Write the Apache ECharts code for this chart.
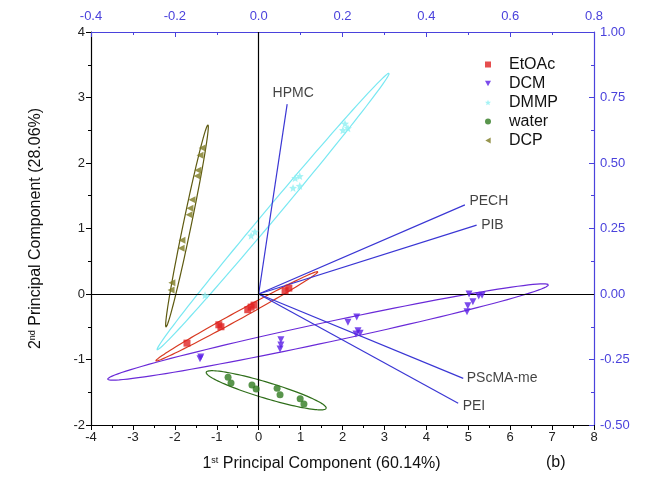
<!DOCTYPE html>
<html>
<head>
<meta charset="utf-8">
<script src="https://cdn.jsdelivr.net/npm/echarts@6/dist/echarts.min.js"></script>
<style>html,body{margin:0;padding:0;background:#fff}#c{width:650px;height:491px}</style>
</head>
<body>
<div id="c"></div>
<script>
// ---- Scores (1st PC, 2nd PC) ----
const groupNames = ['EtOAc', 'DCM', 'DMMP', 'water', 'DCP'];
const etoac = [[-1.71,-0.75],[-0.95,-0.47],[-0.90,-0.50],[-0.26,-0.24],[-0.18,-0.20],[-0.11,-0.17],[0.63,0.05],[0.72,0.09]];
const dcm = [[-1.40,-0.99],[-1.38,-0.96],[0.53,-0.70],[0.53,-0.78],[0.51,-0.84],[2.13,-0.43],[2.34,-0.35],[2.37,-0.56],[2.42,-0.60],[2.32,-0.61],[5.02,0.0],[5.11,-0.12],[5.25,-0.03],[5.33,-0.02],[4.99,-0.18],[4.97,-0.27]];
const dmmp = [[-1.28,-0.02],[-0.18,0.89],[-0.09,0.95],[0.87,1.77],[0.98,1.80],[0.82,1.62],[0.98,1.65],[2.06,2.60],[2.01,2.50],[2.13,2.53]];
const water = [[-0.73,-1.27],[-0.66,-1.36],[-0.16,-1.39],[-0.06,-1.45],[0.44,-1.44],[0.51,-1.54],[0.99,-1.60],[1.08,-1.68]];
const dcp = [[-1.35,2.23],[-1.40,2.12],[-1.45,1.89],[-1.47,1.80],[-1.59,1.44],[-1.64,1.31],[-1.66,1.21],[-1.83,0.82],[-1.85,0.70],[-2.07,0.17],[-2.09,0.06]];

// ---- Confidence ellipses: centre, major half-axis vector, minor half-axis vector (data units) ----
const ellipseCenter = [[-0.52,-0.34],[1.655,-0.58],[0.345,1.26],[0.18,-1.47],[-1.71,1.04]];
const ellipseMajor  = [[1.93,0.68],[5.255,0.72],[2.765,2.11],[1.43,-0.275],[0.50,1.54]];
const ellipseMinor  = [[0.046,-0.053],[0.05,-0.149],[0.11,-0.059],[-0.055,-0.117],[0.094,-0.012]];

// ---- Loadings (top / right axes) ----
const loadingNames = ['HPMC', 'PECH', 'PIB', 'PScMA-me', 'PEI'];
const loadingX = [0.068, 0.492, 0.520, 0.488, 0.476];
const loadingY = [0.725, 0.340, 0.263, -0.322, -0.417];

// ---- Tick settings ----
const bottomTicks = {min: -4, max: 8, interval: 1};
const leftTicks = {min: -2, max: 4, interval: 1};
const topTicks = {min: -0.4, max: 0.8, interval: 0.2};
const rightTicks = {min: -0.5, max: 1.0, interval: 0.25};

const FONT = 'Liberation Sans, Arial, sans-serif';
const BLUE = '#4a42dc';
const groupColors = ['#e02222', '#5a1ee6', '#8ef0f2', '#2f7a1f', '#7d7a22'];
const ellipseColors = ['#d83a22', '#6a2ad8', '#78e8f2', '#2f6e1a', '#5e5a10'];
const STAR = 'path://M0,-10L2.6,-3.6L9.5,-3.1L4.2,1.4L5.9,8.1L0,4.5L-5.9,8.1L-4.2,1.4L-9.5,-3.1L-2.6,-3.6Z';
const DOWN_TRI = 'path://M-5,-4L5,-4L0,5Z';
const LEFT_TRI = 'path://M-5,0L4,-5L4,5Z';
const groupSymbols = ['rect', DOWN_TRI, STAR, 'circle', LEFT_TRI];
const groupData = [etoac, dcm, dmmp, water, dcp];

const series = [];

// ellipses
series.push({
  type: 'custom', name: 'ellipses', xAxisIndex: 0, yAxisIndex: 0, silent: true, z: 2,
  data: ellipseCenter.map((c, i) => [c[0], c[1], i]),
  renderItem: function (params, api) {
    const i = api.value(2);
    const c = ellipseCenter[i], a = ellipseMajor[i], b = ellipseMinor[i];
    const pts = [];
    const N = 120;
    for (let k = 0; k <= N; k++) {
      const t = 2 * Math.PI * k / N;
      pts.push(api.coord([c[0] + a[0] * Math.cos(t) + b[0] * Math.sin(t), c[1] + a[1] * Math.cos(t) + b[1] * Math.sin(t)]));
    }
    return {type: 'polyline', shape: {points: pts}, style: {stroke: ellipseColors[i], lineWidth: 1.2, fill: null}};
  }
});

// loadings lines
loadingNames.forEach((n, i) => {
  series.push({
    type: 'line', name: 'load_' + n, xAxisIndex: 1, yAxisIndex: 1, silent: true, z: 3,
    showSymbol: false, symbol: 'none',
    lineStyle: {color: '#3a36d4', width: 1.2},
    data: [[0, 0], [loadingX[i], loadingY[i]]]
  });
});

// loading labels
const labelPos = [
  {position: 'top', distance: 3, offset: [6, 0]},
  {position: 'right', distance: 4, offset: [0, -4]},
  {position: 'right', distance: 4, offset: [0, 0]},
  {position: 'right', distance: 3, offset: [0, 0]},
  {position: 'right', distance: 4, offset: [0, 3]}
];
series.push({
  type: 'scatter', name: 'loadLabels', xAxisIndex: 1, yAxisIndex: 1, silent: true, symbolSize: 1,
  itemStyle: {color: 'rgba(0,0,0,0)'}, z: 4,
  data: loadingNames.map((n, i) => ({
    value: [loadingX[i], loadingY[i]],
    label: Object.assign({show: true, formatter: n, color: '#111', fontSize: 14, fontFamily: FONT}, labelPos[i])
  }))
});

// scores
groupNames.forEach((n, i) => {
  const s = {
    type: 'scatter', name: n, xAxisIndex: 0, yAxisIndex: 0, z: 5,
    symbol: groupSymbols[i], symbolSize: i === 2 ? 8 : 7,
    itemStyle: {color: groupColors[i]},
    data: groupData[i]
  };
  if (i === 0) {
    s.markLine = {
      silent: true, symbol: 'none', animation: false,
      lineStyle: {color: '#000', type: 'solid', width: 1.2},
      label: {show: false},
      data: [{xAxis: 0}, {yAxis: 0}]
    };
  }
  series.push(s);
});

const rich = {
  n: {fontSize: 16, color: '#111', fontFamily: FONT},
  s: {fontSize: 9, verticalAlign: 'top', color: '#111', padding: [0, 0, 7, 0], fontFamily: FONT}
};

const option = {
  animation: false,
  backgroundColor: '#fff',
  textStyle: {fontFamily: FONT},
  grid: {left: 91, right: 56, top: 32, bottom: 66, containLabel: false},
  legend: {
    data: groupNames.map((n, i) => ({name: n, icon: groupSymbols[i], itemStyle: {color: groupColors[i]}})),
    orient: 'vertical', left: 480, top: 50,
    itemWidth: 6, itemHeight: 6, itemGap: 0,
    textStyle: {fontSize: 16, lineHeight: 19, color: '#111', fontFamily: FONT, padding: [0, 0, 0, 13]}
  },
  xAxis: [
    {
      type: 'value', position: 'bottom', min: bottomTicks.min, max: bottomTicks.max, interval: bottomTicks.interval,
      axisLine: {show: true, onZero: false, lineStyle: {color: '#000', width: 1.2}},
      axisTick: {show: true, inside: false, length: 5, lineStyle: {color: '#000'}},
      minorTick: {show: true, splitNumber: 2, length: 3, lineStyle: {color: '#000'}},
      splitLine: {show: false},
      axisLabel: {color: '#222', fontSize: 13, margin: 6, fontFamily: FONT},
      name: '{n|1}{s|st}{n| Principal Component (60.14%)}',
      nameLocation: 'middle', nameGap: 31,
      nameTextStyle: {padding: [0, 42, 0, 0], rich: rich}
    },
    {
      type: 'value', position: 'top', min: topTicks.min, max: topTicks.max, interval: topTicks.interval,
      axisLine: {show: true, onZero: false, lineStyle: {color: BLUE, width: 1.2}},
      axisTick: {show: true, inside: true, length: 5, lineStyle: {color: BLUE}},
      minorTick: {show: true, splitNumber: 2, length: 3, lineStyle: {color: BLUE}},
      splitLine: {show: false},
      axisLabel: {color: BLUE, fontSize: 13, margin: 9, fontFamily: FONT, formatter: v => v.toFixed(1)}
    }
  ],
  yAxis: [
    {
      type: 'value', position: 'left', min: leftTicks.min, max: leftTicks.max, interval: leftTicks.interval,
      axisLine: {show: true, onZero: false, lineStyle: {color: '#000', width: 1.2}},
      axisTick: {show: true, inside: false, length: 5, lineStyle: {color: '#000'}},
      minorTick: {show: true, splitNumber: 2, length: 3, lineStyle: {color: '#000'}},
      splitLine: {show: false},
      axisLabel: {color: '#222', fontSize: 13, margin: 6, fontFamily: FONT},
      name: '{n|2}{s|nd}{n| Principal Component (28.06%)}',
      nameLocation: 'middle', nameGap: 47, nameRotate: 90,
      nameTextStyle: {rich: rich}
    },
    {
      type: 'value', position: 'right', min: rightTicks.min, max: rightTicks.max, interval: rightTicks.interval,
      axisLine: {show: true, onZero: false, lineStyle: {color: BLUE, width: 1.2}},
      axisTick: {show: true, inside: true, length: 5, lineStyle: {color: BLUE}},
      minorTick: {show: true, splitNumber: 2, length: 3, lineStyle: {color: BLUE}},
      splitLine: {show: false},
      axisLabel: {color: BLUE, fontSize: 13, margin: 6, fontFamily: FONT, formatter: v => v.toFixed(2)}
    }
  ],
  graphic: [
    {type: 'text', left: 546, top: 455, style: {text: '(b)', fontSize: 16, fill: '#111', fontFamily: FONT}}
  ],
  series: series
};

const chart = echarts.init(document.getElementById('c'), null, {renderer: 'canvas'});
chart.setOption(option);
</script>
</body>
</html>
